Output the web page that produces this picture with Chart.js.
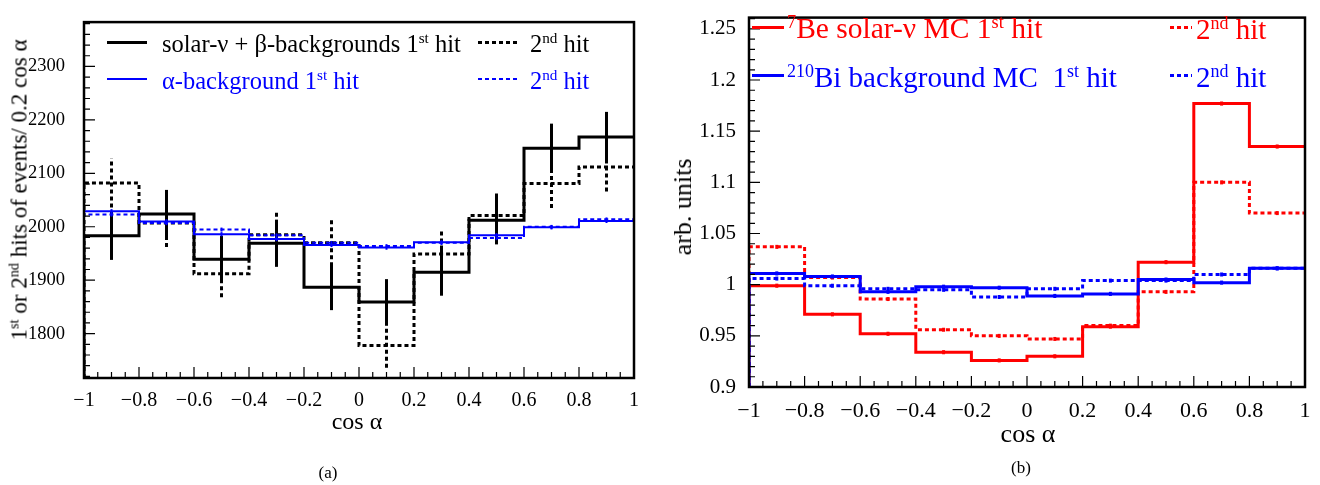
<!DOCTYPE html>
<html>
<head>
<meta charset="utf-8">
<script src="https://cdn.jsdelivr.net/npm/chart.js@4"></script>
<style>
  body { margin: 0; background: #fff; width: 1320px; height: 485px; position: relative; overflow: hidden; font-family: "Liberation Serif", serif; }
  canvas { position: absolute; top: 0; }
  .t { position: absolute; white-space: nowrap; line-height: 1; transform: translateY(-50%); }
  .t sup { font-size: 0.62em; vertical-align: 0.55em; line-height: 0; }
  .ln { position: absolute; }
</style>
</head>
<body>
<canvas id="chartA" width="660" height="440" style="left:0"></canvas>
<canvas id="chartB" width="660" height="440" style="left:660px"></canvas>

<!-- legend (a) -->
<div class="ln" style="left:107px;top:41px;width:40px;height:3px;background:#000"></div>
<div class="t" style="left:162px;top:44px;font-size:24.5px;color:#000">solar-ν + β-backgrounds 1<sup>st</sup> hit</div>
<div class="ln" style="left:478px;top:41px;width:40px;height:3px;background:repeating-linear-gradient(90deg,#000 0 4px,transparent 4px 7px)"></div>
<div class="t" style="left:530px;top:44px;font-size:24.5px;color:#000">2<sup>nd</sup> hit</div>
<div class="ln" style="left:107px;top:78px;width:40px;height:2px;background:#00f"></div>
<div class="t" style="left:162px;top:81px;font-size:24.5px;color:#00f">α-background 1<sup>st</sup> hit</div>
<div class="ln" style="left:478px;top:78px;width:40px;height:2px;background:repeating-linear-gradient(90deg,#00f 0 4px,transparent 4px 7px)"></div>
<div class="t" style="left:530px;top:81px;font-size:24.5px;color:#00f">2<sup>nd</sup> hit</div>

<!-- legend (b) -->
<div class="ln" style="left:752px;top:26px;width:32px;height:3px;background:#f00"></div>
<div class="t" style="left:787px;top:29px;font-size:29.5px;color:#f00"><sup>7</sup>Be solar-ν MC 1<sup>st</sup> hit</div>
<div class="ln" style="left:1170px;top:26px;width:22px;height:3px;background:repeating-linear-gradient(90deg,#f00 0 4px,transparent 4px 7px)"></div>
<div class="t" style="left:1196px;top:29px;font-size:29px;color:#f00">2<sup>nd</sup> hit</div>
<div class="ln" style="left:752px;top:74px;width:32px;height:3px;background:#00f"></div>
<div class="t" style="left:787px;top:77px;font-size:29px;color:#00f"><sup>210</sup>Bi background MC&nbsp; 1<sup>st</sup> hit</div>
<div class="ln" style="left:1170px;top:74px;width:22px;height:3px;background:repeating-linear-gradient(90deg,#00f 0 4px,transparent 4px 7px)"></div>
<div class="t" style="left:1196px;top:77px;font-size:29px;color:#00f">2<sup>nd</sup> hit</div>

<!-- axis titles -->
<div class="t" style="left:19px;top:190px;font-size:23px;transform:translate(-50%,-50%) rotate(-90deg)">1<sup>st</sup> or 2<sup>nd</sup> hits of events/ 0.2 cos α</div>
<div class="t" style="left:357px;top:421px;font-size:24px;transform:translate(-50%,-50%)">cos α</div>
<div class="t" style="left:328px;top:472px;font-size:17px;transform:translate(-50%,-50%)">(a)</div>
<div class="t" style="left:683px;top:207px;font-size:26px;transform:translate(-50%,-50%) rotate(-90deg)">arb. units</div>
<div class="t" style="left:1028px;top:434px;font-size:26px;transform:translate(-50%,-50%)">cos α</div>
<div class="t" style="left:1021px;top:467px;font-size:17px;transform:translate(-50%,-50%)">(b)</div>

<script>
// bin edges and centres in cos(alpha)
const edges = [-1, -0.8, -0.6, -0.4, -0.2, 0, 0.2, 0.4, 0.6, 0.8, 1];
const centers = [-0.9, -0.7, -0.5, -0.3, -0.1, 0.1, 0.3, 0.5, 0.7, 0.9];

// panel (a): counts per bin
const solarFirst = [1983, 2024, 1939, 1969, 1887, 1859, 1915, 2012, 2147, 2168];
const solarSecond = [2082, 2007, 1912, 1985, 1970, 1778, 1949, 2021, 2081, 2112];
const solarFirstErr = [45, 45, 44, 44, 43, 43, 44, 45, 46, 47];
const solarSecondErr = [46, 45, 44, 45, 44, 42, 44, 45, 46, 46];
const alphaFirst = [2029, 2010, 1986, 1977, 1966, 1961, 1971, 1984, 1999, 2011];
const alphaSecond = [2023, 2007, 1995, 1984, 1970, 1964, 1970, 1979, 2000, 2014];
const alphaErr = [4, 4, 4, 4, 4, 4, 4, 4, 4, 4];
const yTicksA = [1800, 1900, 2000, 2100, 2200, 2300];

// panel (b): normalised MC
const beFirst = [0.999, 0.971, 0.952, 0.934, 0.926, 0.930, 0.959, 1.022, 1.177, 1.135];
const beSecond = [1.037, 1.007, 0.986, 0.956, 0.950, 0.947, 0.960, 0.993, 1.100, 1.070];
const biFirst = [1.011, 1.008, 0.993, 0.998, 0.997, 0.989, 0.991, 1.005, 1.002, 1.016];
const biSecond = [1.006, 0.999, 0.996, 0.995, 0.988, 0.996, 1.004, 1.004, 1.010, 1.016];
const mcErr = [0.002, 0.002, 0.002, 0.002, 0.002, 0.002, 0.002, 0.002, 0.002, 0.002];
const yTicksB = [0.9, 0.95, 1, 1.05, 1.1, 1.15, 1.2, 1.25];

const FONT = '"Liberation Serif", serif';

// histogram outline: rise from the axis floor, then one step per bin
function steps(vals, floor) {
  const pts = [{ x: edges[0], y: floor }];
  vals.forEach((v, i) => pts.push({ x: edges[i], y: v }));
  pts.push({ x: edges[edges.length - 1], y: vals[vals.length - 1] });
  return pts;
}

function hist(vals, errs, color, width, dashed, floor) {
  return {
    data: steps(vals, floor),
    vals, errs,
    borderColor: color,
    borderWidth: width,
    borderDash: dashed ? [4, 3] : [],
    stepped: true,
    pointRadius: 0,
    fill: false
  };
}

const fmt = v => String(Math.round(v * 100) / 100).replace('-', '\u2212');

// error bars at the bin centres, drawn right after their own histogram
const errorBars = {
  id: 'errorBars',
  afterDatasetDraw(chart, args) {
    const ds = chart.data.datasets[args.index];
    if (!ds.errs) return;
    const { ctx, scales: { x, y } } = chart;
    ctx.save();
    ctx.strokeStyle = ds.borderColor;
    ctx.lineWidth = ds.borderWidth;
    ctx.setLineDash(ds.borderDash);
    ds.vals.forEach((v, i) => {
      const px = x.getPixelForValue(centers[i]);
      ctx.beginPath();
      ctx.moveTo(px, y.getPixelForValue(v - ds.errs[i]));
      ctx.lineTo(px, y.getPixelForValue(v + ds.errs[i]));
      ctx.stroke();
    });
    ctx.restore();
  }
};

// ROOT-like frame with inward major/minor ticks
const frameTicks = {
  id: 'frameTicks',
  afterDraw(chart, args, o) {
    const { ctx, chartArea: a, scales: { x, y } } = chart;
    ctx.save();
    ctx.strokeStyle = '#000';
    ctx.lineWidth = 1.2;
    const mark = (min, max, minor, major, draw) => {
      const start = Math.ceil(min / minor - 1e-6);
      const end = Math.floor(max / minor + 1e-6);
      for (let k = start; k <= end; k++) {
        const v = k * minor;
        const isMajor = Math.abs(v / major - Math.round(v / major)) < 1e-6;
        draw(v, isMajor ? o.major : o.minor);
      }
    };
    ctx.beginPath();
    mark(x.min, x.max, o.xMinor, o.xMajor, (v, len) => {
      const px = x.getPixelForValue(v);
      ctx.moveTo(px, a.bottom); ctx.lineTo(px, a.bottom - len);
    });
    mark(y.min, y.max, o.yMinor, o.yMajor, (v, len) => {
      const py = y.getPixelForValue(v);
      ctx.moveTo(a.left, py); ctx.lineTo(a.left + len, py);
    });
    ctx.stroke();
    ctx.lineWidth = 2.5;
    ctx.strokeRect(a.left, a.top, a.right - a.left, a.bottom - a.top);
    ctx.restore();
  }
};

function makeChart(id, datasets, yMin, yMax, yTicks, dims, xFont, yFont, tickOpts) {
  return new Chart(document.getElementById(id), {
    type: 'line',
    data: { datasets },
    plugins: [errorBars, frameTicks],
    options: {
      responsive: false,
      animation: false,
      layout: { padding: { top: dims.top, right: dims.right, left: 0, bottom: 0 } },
      plugins: { legend: { display: false }, tooltip: { enabled: false }, frameTicks: tickOpts },
      scales: {
        x: {
          type: 'linear', min: -1, max: 1,
          grid: { display: false }, border: { display: false },
          afterFit: s => { s.height = dims.xh; },
          ticks: { stepSize: 0.2, padding: 3, color: '#000', maxRotation: 0, autoSkip: false,
                   font: { family: FONT, size: xFont }, callback: fmt }
        },
        y: {
          type: 'linear', min: yMin, max: yMax,
          grid: { display: false }, border: { display: false },
          afterFit: s => { s.width = dims.yw; },
          afterBuildTicks: s => { s.ticks = yTicks.map(v => ({ value: v })); },
          ticks: { padding: dims.ypad, color: '#000', font: { family: FONT, size: yFont }, callback: fmt }
        }
      }
    }
  });
}

const yMinA = 1717, yMaxA = 2383;
makeChart('chartA', [
  hist(alphaSecond, alphaErr, '#0000ff', 2, true, yMinA),
  hist(alphaFirst, alphaErr, '#0000ff', 2, false, yMinA),
  hist(solarSecond, solarSecondErr, '#000000', 3, true, yMinA),
  hist(solarFirst, solarFirstErr, '#000000', 3, false, yMinA)
], yMinA, yMaxA, yTicksA, { top: 5, right: 26, yw: 84, xh: 62, ypad: 11 }, 20, 18.5,
  { xMinor: 0.05, xMajor: 0.2, yMinor: 20, yMajor: 100, major: 11, minor: 6 });

const yMinB = 0.9, yMaxB = 1.261;
makeChart('chartB', [
  hist(biSecond, mcErr, '#0000ff', 3, true, yMinB),
  hist(biFirst, mcErr, '#0000ff', 3, false, yMinB),
  hist(beSecond, mcErr, '#ff0000', 3, true, yMinB),
  hist(beFirst, mcErr, '#ff0000', 3, false, yMinB)
], yMinB, yMaxB, yTicksB, { top: 3, right: 15, yw: 89, xh: 53, ypad: 5 }, 22, 21,
  { xMinor: 0.05, xMajor: 0.2, yMinor: 0.01, yMajor: 0.05, major: 11, minor: 6 });
</script>
</body>
</html>
